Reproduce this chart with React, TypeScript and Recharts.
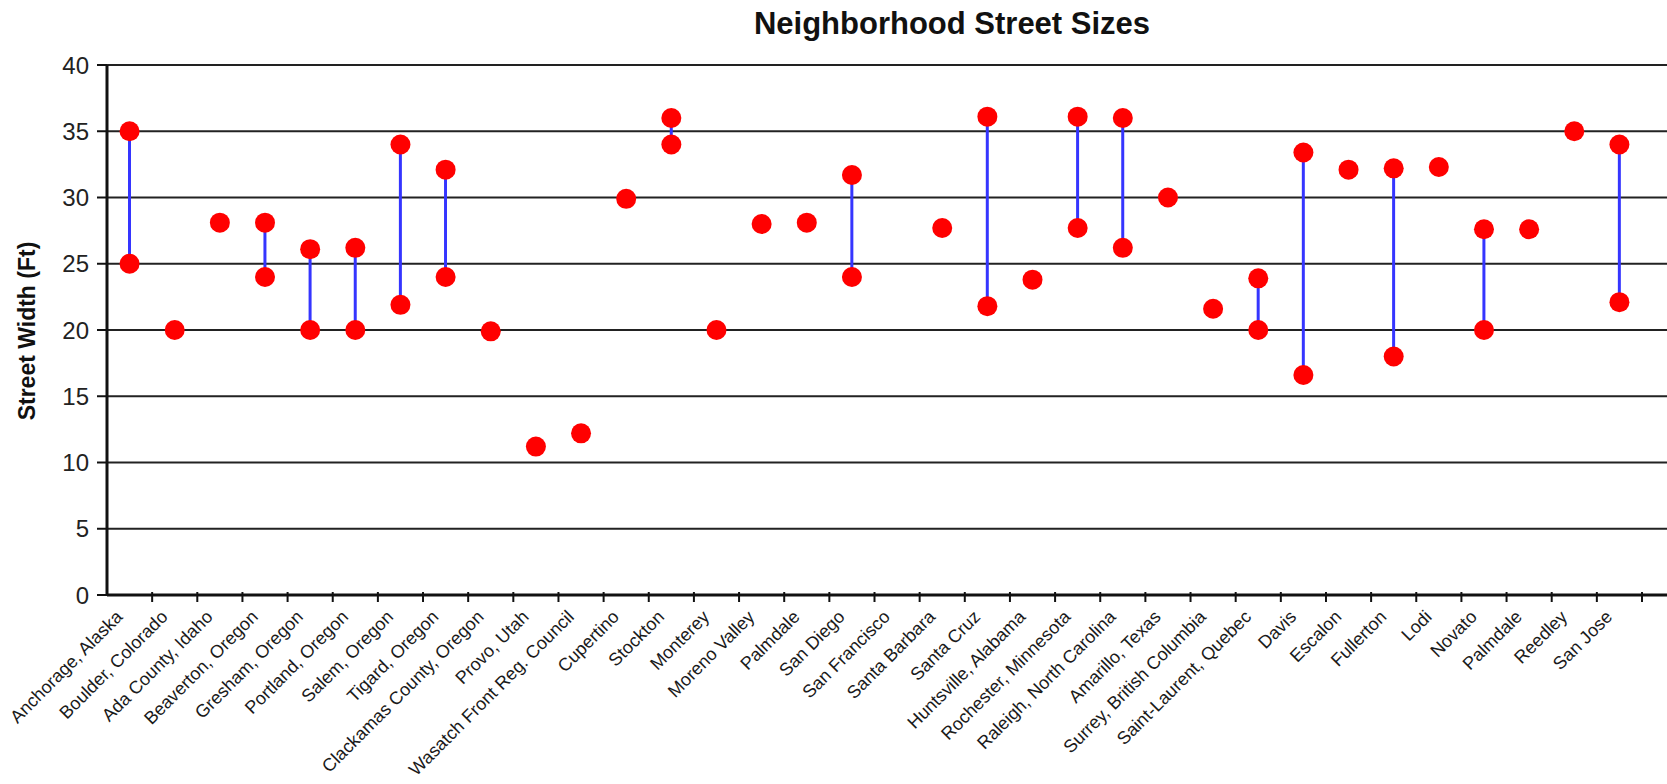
import { ComposedChart, Bar, Line, XAxis, YAxis, CartesianGrid } from 'recharts';

// Categories, left to right (San Francisco has no value plotted)
const cities = [
  'Anchorage, Alaska',
  'Boulder, Colorado',
  'Ada County, Idaho',
  'Beaverton, Oregon',
  'Gresham, Oregon',
  'Portland, Oregon',
  'Salem, Oregon',
  'Tigard, Oregon',
  'Clackamas County, Oregon',
  'Provo, Utah',
  'Wasatch Front Reg. Council',
  'Cupertino',
  'Stockton',
  'Monterey',
  'Moreno Valley',
  'Palmdale',
  'San Diego',
  'San Francisco',
  'Santa Barbara',
  'Santa Cruz',
  'Huntsville, Alabama',
  'Rochester, Minnesota',
  'Raleigh, North Carolina',
  'Amarillo, Texas',
  'Surrey, British Columbia',
  'Saint-Laurent, Quebec',
  'Davis',
  'Escalon',
  'Fullerton',
  'Lodi',
  'Novato',
  'Palmdale',
  'Reedley',
  'San Jose',
];

// widest street width (or the only value) per city
const maxWidth = [
  35, 20, 28.1, 28.1, 26.1, 26.2, 34, 32.1, 19.9, 11.2, 12.2, 29.9, 36, 20, 28, 28.1, 31.7,
  null, 27.7, 36.1, 23.8, 36.1, 36, 30, 21.6, 23.9, 33.4, 32.1, 32.2, 32.3, 27.6, 27.6, 35, 34,
];

// narrowest street width, only where a range is given
const minWidth = [
  25, null, null, 24, 20, 20, 21.9, 24, null, null, null, null, 34, null, null, null, 24,
  null, null, 21.8, null, 27.7, 26.2, null, null, 20, 16.6, null, 18, null, 20, null, null, 22.1,
];

const yTicks = [0, 5, 10, 15, 20, 25, 30, 35, 40];

const data = cities.map((name, i) => ({
  name,
  hi: maxWidth[i],
  lo: minWidth[i],
  range: minWidth[i] != null && maxWidth[i] != null ? [minWidth[i], maxWidth[i]] : null,
}));

const W = 1667;
const H = 784;
const Y_AXIS_W = 107;
const PAD_RIGHT = 25;
const HALF_BAND = (W - Y_AXIS_W - PAD_RIGHT) / cities.length / 2;
const FONT = 'Arial, "Liberation Sans", Helvetica, sans-serif';

const CityTick = (props: any) => {
  const { x, y, payload } = props;
  const tx = x - 6;
  const ty = y + 23;
  return (
    <g>
      <line x1={x + HALF_BAND} x2={x + HALF_BAND} y1={y - 3} y2={y + 7} stroke="#111" strokeWidth={2} />
      <text
        x={tx}
        y={ty}
        transform={`rotate(-45, ${tx}, ${ty})`}
        textAnchor="end"
        fontSize={18}
        fontFamily={FONT}
        fill="#1a1a1a"
      >
        {payload.value}
      </text>
    </g>
  );
};

export default function App() {
  return (
    <div style={{ position: 'absolute', left: 0, top: 0, width: W, height: H, background: '#fff', overflow: 'hidden' }}>
      <div
        style={{
          position: 'absolute',
          left: 652,
          top: 8,
          width: 600,
          textAlign: 'center',
          fontFamily: FONT,
          fontWeight: 'bold',
          fontSize: 31,
          lineHeight: '31px',
          color: '#111',
        }}
      >
        Neighborhood Street Sizes
      </div>
      <div
        style={{
          position: 'absolute',
          left: 27 - 150,
          top: 331 - 13,
          width: 300,
          textAlign: 'center',
          fontFamily: FONT,
          fontWeight: 'bold',
          fontSize: 23,
          lineHeight: '26px',
          color: '#111',
          transform: 'rotate(-90deg)',
        }}
      >
        Street Width (Ft)
      </div>
      <ComposedChart
        width={W}
        height={H}
        data={data}
        margin={{ top: 65, right: 0, bottom: 0, left: 0 }}
        style={{ position: 'absolute', left: 0, top: 0 }}
      >
        <CartesianGrid vertical={false} stroke="#222" strokeWidth={2} />
        <XAxis
          dataKey="name"
          interval={0}
          height={H - 65 - 530}
          padding={{ left: 0, right: PAD_RIGHT }}
          tickLine={false}
          tickSize={0}
          tickMargin={0}
          axisLine={{ stroke: '#111', strokeWidth: 3 }}
          tick={<CityTick />}
        />
        <YAxis
          domain={[0, 40]}
          ticks={yTicks}
          width={Y_AXIS_W}
          tickSize={10}
          tickMargin={8}
          axisLine={{ stroke: '#111', strokeWidth: 3 }}
          tickLine={{ stroke: '#111', strokeWidth: 2 }}
          tick={{ fontSize: 24, fill: '#222', fontFamily: FONT }}
        />
        <Bar dataKey="range" barSize={3} fill="#3535ff" isAnimationActive={false} />
        <Line
          dataKey="lo"
          stroke="none"
          dot={{ r: 10, fill: '#ff0000', stroke: 'none' }}
          activeDot={false}
          isAnimationActive={false}
        />
        <Line
          dataKey="hi"
          stroke="none"
          dot={{ r: 10, fill: '#ff0000', stroke: 'none' }}
          activeDot={false}
          isAnimationActive={false}
        />
      </ComposedChart>
    </div>
  );
}
